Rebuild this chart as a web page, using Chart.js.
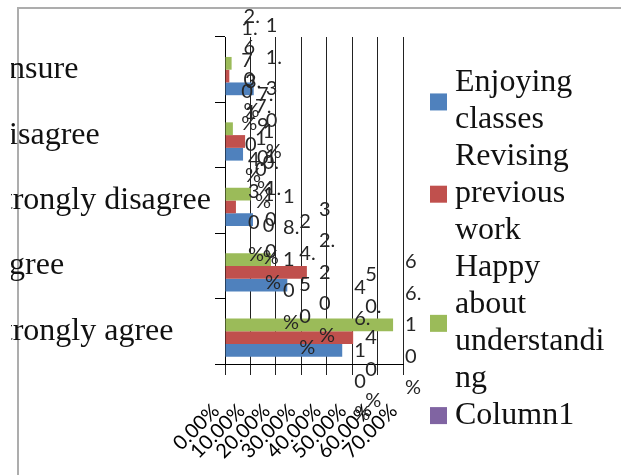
<!DOCTYPE html>
<html>
<head>
<meta charset="utf-8">
<script src="https://cdn.jsdelivr.net/npm/chart.js@4/dist/chart.umd.min.js"></script>
<style>
  html, body { margin: 0; padding: 0; background: #fff; overflow: hidden; }
  #wrap { position: absolute; left: 11px; top: 0; width: 610px; height: 475px; overflow: hidden; background: #fff; }
  #c { position: absolute; left: -41px; top: 0; }
</style>
</head>
<body>
<div id="wrap"><canvas id="c" width="651" height="475"></canvas></div>
<script>
// Survey answers, share of students per answer (percent)
const categories = ['Strongly agree', 'Agree', 'Strongly disagree', 'Disagree', 'Unsure'];
const enjoyingClasses = [46.1, 24.5, 11.0, 7.1, 11.3];
const revisingPreviousWork = [50.4, 32.2, 4.3, 7.9, 1.7];
const happyAboutUnderstanding = [66.1, 18.1, 10.1, 3.1, 2.6];
const column1 = [null, null, null, null, null];
const xTickValues = [0, 10, 20, 30, 40, 50, 60, 70];

const seriesNames = ['Enjoying classes', 'Revising previous work', 'Happy about understanding', 'Column1'];
const seriesColors = ['#4F81BD', '#C0504D', '#9BBB59', '#8064A2'];

// break a string into lines no wider than maxW, character by character
function wrapChars(ctx, text, maxW) {
  const lines = [];
  let cur = '';
  for (const ch of text) {
    if (cur && ctx.measureText(cur + ch).width > maxW) { lines.push(cur); cur = ch; }
    else cur += ch;
  }
  if (cur) lines.push(cur);
  return lines;
}

// word wrap, splitting words that are too long on their own
function wrapWords(ctx, text, maxW) {
  const lines = [];
  let cur = '';
  for (const word of text.split(' ')) {
    const cand = cur ? cur + ' ' + word : word;
    if (ctx.measureText(cand).width <= maxW) { cur = cand; continue; }
    if (cur) lines.push(cur);
    cur = '';
    if (ctx.measureText(word).width <= maxW) { cur = word; continue; }
    const parts = wrapChars(ctx, word, maxW);
    cur = parts.pop();
    lines.push(...parts);
  }
  if (cur) lines.push(cur);
  return lines;
}

const framePlugin = {
  id: 'frame',
  beforeDraw(chart) {
    const ctx = chart.ctx;
    ctx.save();
    ctx.fillStyle = '#fff';
    ctx.fillRect(0, 0, chart.width, chart.height);
    ctx.strokeStyle = '#ADADAD';
    ctx.lineWidth = 2;
    ctx.strokeRect(48, 8, 900, 900);
    ctx.restore();
  }
};

const valueLabels = {
  id: 'valueLabels',
  afterDatasetsDraw(chart) {
    const ctx = chart.ctx;
    ctx.save();
    ctx.font = '20px Lato';
    ctx.fillStyle = '#262626';
    ctx.textBaseline = 'middle';
    ctx.textAlign = 'left';
    const lh = 31.5;
    chart.data.datasets.forEach((ds, i) => {
      const meta = chart.getDatasetMeta(i);
      meta.data.forEach((bar, j) => {
        const v = ds.data[j];
        if (v == null) return;
        const lines = wrapChars(ctx, v.toFixed(2) + '%', 21);
        const y0 = bar.y - (lines.length - 1) * lh / 2;
        lines.forEach((t, k) => ctx.fillText(t, bar.x + 12, y0 + k * lh));
      });
    });
    ctx.restore();
  }
};

const sideLegend = {
  id: 'sideLegend',
  afterDraw(chart) {
    const ctx = chart.ctx;
    ctx.save();
    ctx.font = '32px "Liberation Serif"';
    ctx.textBaseline = 'middle';
    ctx.textAlign = 'left';
    const lh = 36.9;
    let y = 83;
    chart.data.datasets.forEach(ds => {
      const lines = wrapWords(ctx, ds.label, 155);
      const mid = y + (lines.length - 1) * lh / 2;
      ctx.fillStyle = ds.backgroundColor;
      ctx.fillRect(460, mid - 8, 17, 17);
      ctx.fillStyle = '#111';
      lines.forEach((t, k) => ctx.fillText(t, 485, y + k * lh));
      y += lines.length * lh;
    });
    ctx.restore();
  }
};

const seriesData = [enjoyingClasses, revisingPreviousWork, happyAboutUnderstanding, column1];

function draw() {
  new Chart(document.getElementById('c'), {
    type: 'bar',
    data: {
      labels: categories,
      datasets: seriesNames.map((name, i) => ({
        label: name,
        data: seriesData[i],
        backgroundColor: seriesColors[i],
        borderWidth: 0,
        categoryPercentage: 0.78,
        barPercentage: 1,
        order: seriesNames.length - i
      }))
    },
    options: {
      indexAxis: 'y',
      responsive: false,
      animation: false,
      layout: { padding: { left: 16, top: 37, right: 218, bottom: 0 } },
      plugins: { legend: { display: false }, tooltip: { enabled: false } },
      scales: {
        x: {
          min: 0,
          max: 70,
          afterBuildTicks: s => { s.ticks = xTickValues.map(value => ({ value })); },
          afterFit: s => { s.height = 111; },
          ticks: {
            callback: v => Number(v).toFixed(2) + '%',
            minRotation: 45,
            maxRotation: 45,
            autoSkip: false,
            padding: 24,
            labelOffset: -9,
            color: '#000',
            font: { family: 'Lato', size: 20 }
          },
          grid: { color: '#222', lineWidth: 1, tickLength: 11 },
          border: { color: '#000', width: 1 }
        },
        y: {
          reverse: true,
          offset: true,
          afterFit: s => { s.width = 239; },
          grid: { offset: true, drawOnChartArea: false, tickLength: 10, color: '#000' },
          border: { color: '#000', width: 1 },
          ticks: {
            crossAlign: 'far',
            padding: 0,
            color: '#111',
            font: { family: 'Liberation Serif', size: 32 }
          }
        }
      }
    },
    plugins: [framePlugin, valueLabels, sideLegend]
  });
}

Promise.all([
  document.fonts.load('20px Lato'),
  document.fonts.load('32px "Liberation Serif"')
]).then(draw, draw);
</script>
</body>
</html>
